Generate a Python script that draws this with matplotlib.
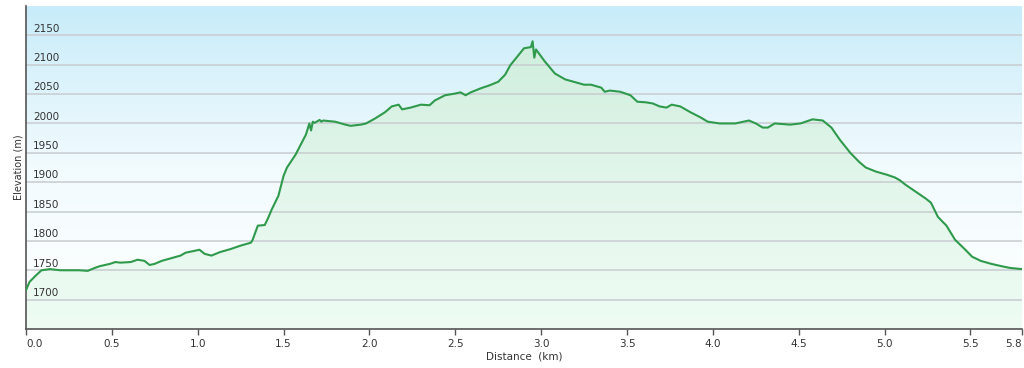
import numpy as np
import matplotlib.pyplot as plt
from matplotlib.colors import LinearSegmentedColormap
from matplotlib.transforms import blended_transform_factory

# --- Profile data ---
dist_km = [0.00, 0.02, 0.05, 0.09, 0.14, 0.20, 0.31, 0.36, 0.40, 0.43, 0.49, 0.52,
           0.55, 0.61, 0.65, 0.69, 0.72, 0.75, 0.79, 0.85, 0.90, 0.93, 0.98, 1.01,
           1.04, 1.08, 1.13, 1.19, 1.25, 1.31, 1.32, 1.35, 1.39, 1.41, 1.43, 1.47,
           1.50, 1.52, 1.55, 1.57, 1.60, 1.63, 1.65, 1.66, 1.67, 1.68, 1.71, 1.72,
           1.73, 1.80, 1.86, 1.89, 1.95, 1.98, 2.03, 2.09, 2.13, 2.17, 2.19, 2.24,
           2.30, 2.35, 2.38, 2.44, 2.50, 2.53, 2.56, 2.59, 2.65, 2.70, 2.75, 2.79,
           2.82, 2.87, 2.90, 2.94, 2.95, 2.96, 2.97, 3.02, 3.08, 3.14, 3.20, 3.25,
           3.29, 3.35, 3.37, 3.40, 3.46, 3.52, 3.56, 3.61, 3.65, 3.69, 3.73, 3.76,
           3.81, 3.87, 3.93, 3.97, 4.04, 4.13, 4.21, 4.25, 4.29, 4.32, 4.36, 4.45,
           4.51, 4.58, 4.64, 4.69, 4.74, 4.80, 4.85, 4.89, 4.95, 5.01, 5.06, 5.09,
           5.12, 5.18, 5.24, 5.27, 5.31, 5.36, 5.41, 5.47, 5.51, 5.56, 5.62, 5.68,
           5.73, 5.80]
elev_m = [1716, 1730, 1739, 1750, 1752, 1750, 1750, 1749, 1754, 1757, 1761, 1764,
          1763, 1764, 1768, 1766, 1759, 1761, 1766, 1771, 1775, 1780, 1783, 1785,
          1778, 1775, 1781, 1786, 1792, 1797, 1802, 1826, 1827, 1839, 1853, 1877,
          1911, 1925, 1938, 1947, 1964, 1981, 2000, 1988, 2003, 2001, 2006, 2003,
          2005, 2003, 1998, 1996, 1998, 2000, 2008, 2019, 2029, 2032, 2024, 2027,
          2032, 2031, 2039, 2048, 2051, 2053, 2048, 2053, 2060, 2065, 2071, 2083,
          2099, 2117, 2128, 2130, 2140, 2112, 2126, 2106, 2085, 2075, 2070, 2066,
          2066, 2061, 2054, 2056, 2054, 2048, 2037, 2036, 2034, 2029, 2027, 2032,
          2029, 2019, 2010, 2003, 2000, 2000, 2005, 2000, 1993, 1993, 2000, 1998,
          2000, 2007, 2005, 1993, 1972, 1950, 1935, 1925, 1918, 1913, 1908, 1903,
          1896, 1884, 1872, 1865, 1841, 1826, 1802, 1785, 1773, 1766, 1761, 1757,
          1754, 1752]

y_ticks = [1700, 1750, 1800, 1850, 1900, 1950, 2000, 2050, 2100, 2150]
x_ticks = [0.0, 0.5, 1.0, 1.5, 2.0, 2.5, 3.0, 3.5, 4.0, 4.5, 5.0, 5.5, 5.8]
x_labels = ["0.0", "0.5", "1.0", "1.5", "2.0", "2.5", "3.0", "3.5", "4.0",
            "4.5", "5.0", "5.5", "5.8"]

x = np.array(dist_km)
y = np.array(elev_m)
xmin, xmax = 0.0, 5.8
ymin, ymax = 1650, 2200

fig = plt.figure(figsize=(10.24, 3.68), dpi=100)
ax = fig.add_axes([26 / 1024, 39 / 368, 996 / 1024, 323 / 368])
ax.set_xlim(xmin, xmax)
ax.set_ylim(ymin, ymax)

# --- background: sky-blue gradient ---
sky = LinearSegmentedColormap.from_list("sky", ["#ffffff", "#f2fbfe", "#c8ecf9"])
grad = np.linspace(0, 1, 256).reshape(-1, 1)
ax.imshow(grad, cmap=sky, aspect="auto", origin="lower",
          extent=[xmin, xmax, ymin, ymax], zorder=0)

# --- green gradient under the profile ---
mint = LinearSegmentedColormap.from_list("mint", ["#eefcf3", "#e3f6ec", "#cfeedd"])
fill_img = ax.imshow(grad, cmap=mint, aspect="auto", origin="lower",
                     extent=[xmin, xmax, ymin, y.max()], zorder=1)
poly = ax.fill_between(x, y, ymin, color="none", lw=0)
clip = poly.get_paths()[0]
fill_img.set_clip_path(clip, transform=ax.transData)

# grid lines
for v in y_ticks:
    ax.axhline(v, color="#c8ccd0", lw=1.1, zorder=2)

ax.plot(x, y, color="#2f9a4c", lw=1.5, zorder=3)

# y tick labels drawn inside the plot, just above each grid line
trans = blended_transform_factory(ax.transAxes, ax.transData)
for v in y_ticks:
    ax.text(7 / 996, v + 3, str(v), transform=trans, fontsize=7.5,
            color="#333333", ha="left", va="bottom", zorder=4)
ax.set_yticks([])

ax.set_xticks(x_ticks)
ax.set_xticklabels(x_labels, fontsize=7.5, color="#333333")
ax.get_xticklabels()[0].set_ha("left")
ax.get_xticklabels()[-1].set_ha("right")
ax.tick_params(axis="x", length=4, width=1, color="#555555", pad=3)

for side in ["top", "right"]:
    ax.spines[side].set_visible(False)
for side in ["left", "bottom"]:
    ax.spines[side].set_color("#555555")
    ax.spines[side].set_linewidth(1.2)

ax.set_xlabel("Distance  (km)", fontsize=7.5, color="#333333", labelpad=2)
ax.set_ylabel("Elevation (m)", fontsize=7, color="#333333", labelpad=2)

plt.savefig("out.png", dpi=100)
